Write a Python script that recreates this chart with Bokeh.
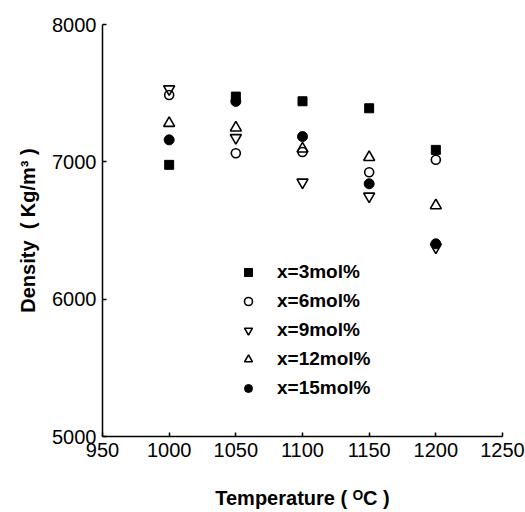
from bokeh.plotting import figure
from bokeh.models import Legend, LegendItem, Range1d, FixedTicker
from bokeh.embed import file_html
from bokeh.resources import INLINE

temps = [1000, 1050, 1100, 1150, 1200]
d3 = [6978, 7475, 7441, 7390, 7087]
d6 = [7487, 7063, 7072, 6924, 7015]
d9 = [7530, 7175, 6851, 6749, 6378]
d12 = [7281, 7248, 7095, 7033, 6682]
d15 = [7160, 7440, 7184, 6840, 6403]
labels = ["x=3mol%", "x=6mol%", "x=9mol%", "x=12mol%", "x=15mol%"]
x_ticks = [950, 1000, 1050, 1100, 1150, 1200, 1250]
y_ticks = [5000, 6000, 7000, 8000]

p = figure(width=525, height=512, output_backend="svg", toolbar_location=None,
           x_range=Range1d(950, 1250), y_range=Range1d(5000, 8000),
           min_border_left=102, min_border_right=23, min_border_top=24, min_border_bottom=76)
p.outline_line_color = None
p.xgrid.grid_line_color = None
p.ygrid.grid_line_color = None

FONT = "Liberation Sans"
for ax in (p.xaxis[0], p.yaxis[0]):
    ax.axis_line_width = 1.5
    ax.axis_line_color = "black"
    ax.major_tick_in = 4
    ax.major_tick_out = 0
    ax.major_tick_line_width = 1.5
    ax.minor_tick_in = 0
    ax.minor_tick_out = 0
    ax.major_label_text_font = FONT
    ax.major_label_text_font_size = "20px"
    ax.major_label_text_color = "black"
    ax.axis_label_text_font = FONT
    ax.axis_label_text_font_size = "20px"
    ax.axis_label_text_font_style = "bold"
    ax.axis_label_text_color = "black"

p.xaxis.ticker = FixedTicker(ticks=x_ticks)
p.yaxis.ticker = FixedTicker(ticks=y_ticks)
p.xaxis.major_label_standoff = 6
p.yaxis.major_label_standoff = 6
p.xaxis.axis_label = "Temperature ( ᴼC )"
p.yaxis.axis_label = "Density\u00a0\u00a0( Kg/m³ )"
p.xaxis.axis_label_standoff = 27
p.yaxis.axis_label_standoff = 10

r3 = p.scatter(temps, d3, marker="square", size=9, fill_color="black", line_color="black", line_width=1)
r6 = p.scatter(temps, d6, marker="circle", size=9, fill_color=None, line_color="black", line_width=1.6)
r9 = p.scatter(temps, d9, marker="inverted_triangle", size=11, fill_color=None, line_color="black", line_width=1.6)
r12 = p.scatter(temps, d12, marker="triangle", size=11, fill_color=None, line_color="black", line_width=1.6)
r15 = p.scatter(temps, d15, marker="circle", size=10, fill_color="black", line_color="black", line_width=1)

items = [LegendItem(label=l, renderers=[r]) for l, r in zip(labels, [r3, r6, r9, r12, r15])]
legend = Legend(items=items, location=(136, 37), background_fill_alpha=0, border_line_alpha=0,
                padding=0, margin=0, glyph_width=20, glyph_height=22, label_height=22,
                spacing=7, label_standoff=19, label_text_font=FONT, label_text_font_size="19px",
                label_text_font_style="bold", label_text_color="black")
p.add_layout(legend, "center")

open("out.html", "w").write(file_html(p, INLINE))
